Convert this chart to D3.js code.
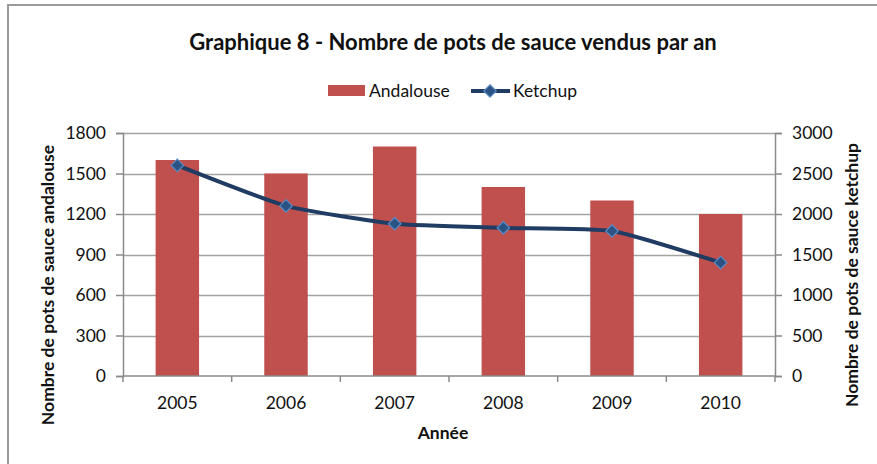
<!DOCTYPE html>
<html>
<head>
<meta charset="utf-8">
<script src="https://cdn.jsdelivr.net/npm/d3@7"></script>
<style>
  body { margin: 0; background: #fff; }
  svg { font-family: Lato, "Open Sans", sans-serif; }
</style>
</head>
<body>
<div id="chart"></div>
<script>
//---------------- data ----------------------
var years = ["2005", "2006", "2007", "2008", "2009", "2010"];
var andalouse = [1600, 1500, 1700, 1400, 1300, 1200];
var ketchup = [2600, 2100, 1880, 1830, 1790, 1400];
var leftTicks = [0, 300, 600, 900, 1200, 1500, 1800];
var rightTicks = [0, 500, 1000, 1500, 2000, 2500, 3000];

//---------------- sizes ----------------------
var w = 877;
var h = 464;
var plotLeft = 123;
var plotRight = 775;
var plotTop = 133;
var plotBottom = 376;
var fontSize = "17.5px";

var barColor = "#C0504D";
var lineColor = "#213C63";
var gridColor = "#a3a3a3";
var axisColor = "#8a8a8a";

var svg = d3.select("#chart").append("svg")
	.attr("width", w)
	.attr("height", h);

// chart frame (only top and left edges show)
svg.append("path")
	.attr("d", "M8,470 L8,5 L880,5")
	.attr("fill", "none")
	.attr("stroke", "#9a9a9a")
	.attr("stroke-width", 2);

//---------------- scales ----------------------
var xScale = d3.scaleBand()
	.domain(years)
	.range([plotLeft, plotRight])
	.paddingInner(0.6)
	.paddingOuter(0.3);

var yLeft = d3.scaleLinear()
	.domain([0, 1800])
	.range([plotBottom, plotTop]);

var yRight = d3.scaleLinear()
	.domain([0, 3000])
	.range([plotBottom, plotTop]);

//---------------- gridlines ----------------------
svg.append("g")
	.selectAll("line")
	.data(leftTicks.slice(1))
	.enter()
	.append("line")
	.attr("x1", plotLeft)
	.attr("x2", plotRight)
	.attr("y1", function(d) { return Math.round(yLeft(d)) + 0.5; })
	.attr("y2", function(d) { return Math.round(yLeft(d)) + 0.5; })
	.attr("stroke", gridColor)
	.attr("stroke-width", 1.5);

//---------------- bars ----------------------
svg.append("g")
	.selectAll("rect")
	.data(years)
	.enter()
	.append("rect")
	.attr("x", function(d) { return xScale(d); })
	.attr("y", function(d, i) { return yLeft(andalouse[i]); })
	.attr("width", xScale.bandwidth())
	.attr("height", function(d, i) { return yLeft(0) - yLeft(andalouse[i]); })
	.attr("fill", barColor);

//---------------- axes ----------------------
var leftAxis = d3.axisLeft(yLeft)
	.tickValues(leftTicks)
	.tickFormat(d3.format("d"))
	.tickSize(7)
	.tickPadding(10);

var gl = svg.append("g")
	.attr("transform", "translate(" + plotLeft + ",0)")
	.call(leftAxis);

var rightAxis = d3.axisRight(yRight)
	.tickValues(rightTicks)
	.tickFormat(d3.format("d"))
	.tickSize(7)
	.tickPadding(10);

var gr = svg.append("g")
	.attr("transform", "translate(" + plotRight + ",0)")
	.call(rightAxis);

// bottom axis: ticks sit on category boundaries
var xLin = d3.scaleLinear().domain([0, years.length]).range([plotLeft, plotRight]);
var gb = svg.append("g")
	.attr("transform", "translate(0," + plotBottom + ")");
gb.append("line")
	.attr("x1", plotLeft).attr("x2", plotRight)
	.attr("stroke", axisColor).attr("stroke-width", 1.5);
gb.selectAll("line.tk")
	.data(d3.range(years.length + 1))
	.enter()
	.append("line")
	.attr("class", "tk")
	.attr("x1", function(d) { return xLin(d); })
	.attr("x2", function(d) { return xLin(d); })
	.attr("y1", 0)
	.attr("y2", 6)
	.attr("stroke", axisColor)
	.attr("stroke-width", 1.5);
gb.selectAll("text")
	.data(years)
	.enter()
	.append("text")
	.attr("x", function(d) { return xScale(d) + xScale.bandwidth() / 2; })
	.attr("y", 33)
	.attr("text-anchor", "middle")
	.attr("fill", "#111")
	.style("font-size", fontSize)
	.text(function(d) { return d; });

[gl, gr].forEach(function(g) {
	g.select(".domain").attr("stroke", axisColor).attr("stroke-width", 1.5);
	g.selectAll(".tick line").attr("stroke", axisColor).attr("stroke-width", 1.5);
	g.selectAll(".tick text")
		.attr("fill", "#111")
		.style("font-family", "Lato, sans-serif")
		.style("font-size", fontSize);
});

//---------------- ketchup line ----------------------
var line = d3.line()
	.x(function(d, i) { return xScale(years[i]) + xScale.bandwidth() / 2; })
	.y(function(d) { return yRight(d); })
	.curve(d3.curveCardinal.tension(0.5));

svg.append("path")
	.datum(ketchup)
	.attr("d", line)
	.attr("fill", "none")
	.attr("stroke", lineColor)
	.attr("stroke-width", 4);

var diamond = d3.symbol().type(d3.symbolDiamond2).size(100);

svg.append("g")
	.selectAll("path")
	.data(ketchup)
	.enter()
	.append("path")
	.attr("d", diamond)
	.attr("transform", function(d, i) {
		return "translate(" + (xScale(years[i]) + xScale.bandwidth() / 2) + "," + yRight(d) + ")";
	})
	.attr("fill", "#2A5283")
	.attr("stroke", "#5A8AC6")
	.attr("stroke-width", 1.2);

//---------------- titles ----------------------
svg.append("text")
	.attr("x", 453)
	.attr("y", 50)
	.attr("text-anchor", "middle")
	.style("font-size", "22px")
	.style("font-weight", "bold")
	.attr("fill", "#111")
	.text("Graphique 8 - Nombre de pots de sauce vendus par an");

svg.append("text")
	.attr("x", 443)
	.attr("y", 439)
	.attr("text-anchor", "middle")
	.style("font-size", fontSize)
	.style("font-weight", "bold")
	.attr("fill", "#111")
	.text("Année");

svg.append("text")
	.attr("transform", "translate(54,285) rotate(-90)")
	.attr("text-anchor", "middle")
	.style("font-size", "17.5px")
	.style("font-weight", "bold")
	.attr("fill", "#111")
	.text("Nombre de pots de sauce andalouse");

svg.append("text")
	.attr("transform", "translate(858,275) rotate(-90)")
	.attr("text-anchor", "middle")
	.style("font-size", "17.5px")
	.style("font-weight", "bold")
	.attr("fill", "#111")
	.text("Nombre de pots de sauce ketchup");

//---------------- legend ----------------------
var legend = svg.append("g").attr("transform", "translate(0,91)");

legend.append("rect")
	.attr("x", 328).attr("y", -6)
	.attr("width", 37).attr("height", 11)
	.attr("fill", barColor);
legend.append("text")
	.attr("x", 369).attr("y", 6)
	.style("font-size", fontSize)
	.attr("fill", "#111")
	.text("Andalouse");

legend.append("line")
	.attr("x1", 471).attr("x2", 510)
	.attr("stroke", lineColor)
	.attr("stroke-width", 4);
legend.append("path")
	.attr("d", diamond)
	.attr("transform", "translate(490,0)")
	.attr("fill", "#2A5283")
	.attr("stroke", "#5A8AC6")
	.attr("stroke-width", 1.2);
legend.append("text")
	.attr("x", 513).attr("y", 6)
	.style("font-size", fontSize)
	.attr("fill", "#111")
	.text("Ketchup");
</script>
</body>
</html>
